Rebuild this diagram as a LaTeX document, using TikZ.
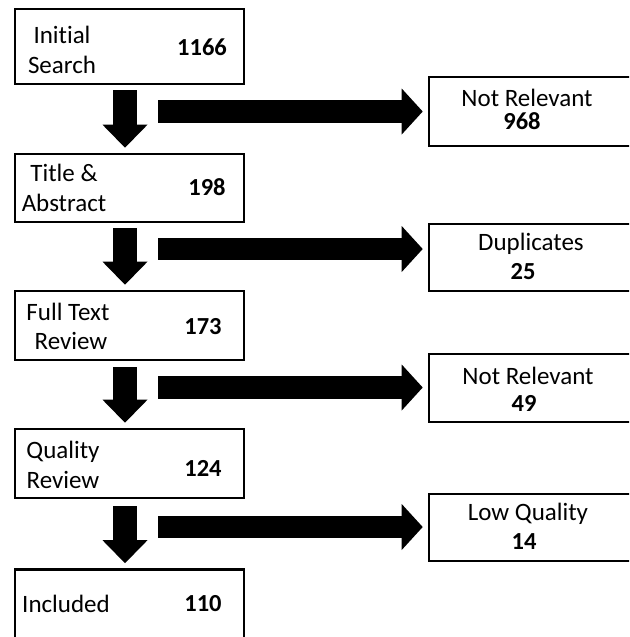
\documentclass[tikz,border=0pt]{standalone}
\usepackage{fontspec}
\setmainfont{Carlito}[Ligatures=NoCommon]
\usetikzlibrary{arrows.meta}
\begin{document}
\begin{tikzpicture}[x=1pt,y=-1pt,
  box/.style={draw=black,line width=2.6pt,fill=white,inner sep=0pt},
  lbl/.style={font=\fontsize{25}{29.5}\selectfont,align=center,inner sep=0pt},
  num/.style={font=\fontsize{24.5}{29}\selectfont\bfseries,inner sep=0pt},
  darrow/.style={line width=24pt,shorten >=5pt,-{Triangle[width=45pt,length=23pt,line width=0pt]}},
  rarrow/.style={line width=22.5pt,shorten >=5pt,-{Triangle[width=46pt,length=21pt,line width=0pt]}}]
\useasboundingbox (0,0) rectangle (629,637);
\clip (0,0) rectangle (629,637);
% left column boxes
\node[box,minimum width=229pt,minimum height=75pt] (b1) at (129.5,46.5) {};
\node[box,minimum width=229pt,minimum height=68pt] (b2) at (129.5,188) {};
\node[box,minimum width=229pt,minimum height=69pt] (b3) at (129.5,325.5) {};
\node[box,minimum width=229pt,minimum height=69pt] (b4) at (129.5,463.5) {};
\node[box,minimum width=229pt,minimum height=69pt] (b5) at (129.5,604) {};
% right column boxes
\node[box,minimum width=240pt,minimum height=69pt] (r1) at (549,111.5) {};
\node[box,minimum width=240pt,minimum height=67pt] (r2) at (549,257.5) {};
\node[box,minimum width=240pt,minimum height=68pt] (r3) at (549,388) {};
\node[box,minimum width=240pt,minimum height=67pt] (r4) at (549,527.5) {};
% texts left
\node[lbl] (t1) at (62,50) {Initial\\Search};
\node[num] (n1) at (202,47) {1166};
\node[lbl] (t2) at (64,188) {Title \&\\Abstract};
\node[num] (n2) at (207,187) {198};
\node[lbl] (t3) at (68,326.5) {Full Text\\\hspace*{6pt}Review};
\node[num] (n3) at (203,327) {173};
\node[lbl] (t4) at (63,465) {Quality\\Review};
\node[num] (n4) at (203,468) {124};
\node[lbl] (t5) at (66,604) {Included};
\node[num] (n5) at (203,604) {110};
% texts right
\node[lbl] (u1) at (527,98) {Not Relevant};
\node[num] (m1) at (522,121) {968};
\node[lbl] (u2) at (531,244) {Duplicates};
\node[num] (m2) at (523,272) {25};
\node[lbl] (u3) at (528,376) {Not Relevant};
\node[num] (m3) at (524,403) {49};
\node[lbl] (u4) at (528,514) {Low Quality};
\node[num] (m4) at (524,542) {14};
% down arrows
\coordinate (d1) at (125,90);
\coordinate (d2) at (125,228);
\coordinate (d3) at (125,367);
\coordinate (d4) at (125,506);
\draw[darrow] (d1) -- (d1 |- b2.north);
\draw[darrow] (d2) -- (d2 |- b3.north);
\draw[darrow] (d3) -- (d3 |- b4.north);
\draw[darrow] (d4) -- (d4 |- b5.north);
% right arrows
\coordinate (s1) at (158,111.5);
\coordinate (s2) at (158,249);
\coordinate (s3) at (158,387.5);
\coordinate (s4) at (158,527);
\draw[rarrow] (s1) -- (s1 -| r1.west);
\draw[rarrow] (s2) -- (s2 -| r2.west);
\draw[rarrow] (s3) -- (s3 -| r3.west);
\draw[rarrow] (s4) -- (s4 -| r4.west);
\end{tikzpicture}
\end{document}
